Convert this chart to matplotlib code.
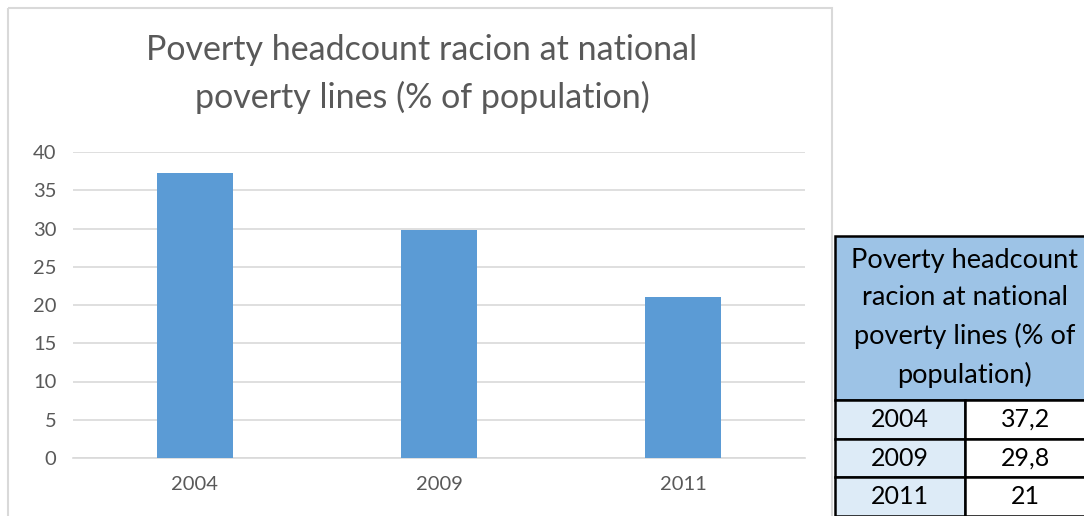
import matplotlib.pyplot as plt
from matplotlib.patches import Rectangle

years = ["2004", "2009", "2011"]
values = [37.2, 29.8, 21]
value_labels = ["37,2", "29,8", "21"]
title = "Poverty headcount racion at national\npoverty lines (% of population)"
table_header = "Poverty headcount\nracion at national\npoverty lines (% of\npopulation)"

plt.rcParams["font.family"] = ["Lato", "DejaVu Sans"]

W, H = 1084, 516
fig = plt.figure(figsize=(W / 100, H / 100), dpi=100)

# pixel overlay for chart border and table
bg = fig.add_axes([0, 0, 1, 1])
bg.set_xlim(0, W)
bg.set_ylim(H, 0)
bg.axis("off")
bg.add_patch(Rectangle((8, 8), 824, 520, fill=False, ec="#D9D9D9", lw=1.5))

# bar chart
left, right, top, bottom = 73, 805, 152, 458
ax = fig.add_axes([left / W, 1 - bottom / H, (right - left) / W, (bottom - top) / H])
ax.bar(years, values, width=0.31, color="#5B9BD5", zorder=3)
ax.set_ylim(0, 40)
ax.set_xlim(-0.5, 2.5)
ax.set_yticks(range(0, 41, 5))
ax.grid(axis="y", color="#D9D9D9", lw=1.2, zorder=0)
for s in ["top", "right", "left"]:
    ax.spines[s].set_visible(False)
ax.spines["bottom"].set_color("#D9D9D9")
ax.spines["bottom"].set_linewidth(1.2)
ax.tick_params(length=0, colors="#595959", labelsize=14.5)
ax.tick_params(axis="x", pad=13)
ax.tick_params(axis="y", pad=12)
fig.text(422 / W, 1 - 74 / H, title, ha="center", va="center",
         fontsize=24.5, color="#595959", linespacing=1.55)

# table
tx0, tx1, tx2 = 835, 965, 1090
hy0, hy1 = 236, 400
row_h = 38.7
bg.add_patch(Rectangle((tx0, hy0), tx2 - tx0, hy1 - hy0, fc="#9DC3E6", ec="black", lw=1.8))
bg.text((tx0 + 1084) / 2 + 5, (hy0 + hy1) / 2, table_header, ha="center", va="center",
        fontsize=19.5, linespacing=1.6, color="black")
for i, (yr, lab) in enumerate(zip(years, value_labels)):
    y = hy1 + i * row_h
    bg.add_patch(Rectangle((tx0, y), tx1 - tx0, row_h, fc="#DDEBF7", ec="black", lw=1.8))
    bg.add_patch(Rectangle((tx1, y), tx2 - tx1, row_h, fc="white", ec="black", lw=1.8))
    bg.text((tx0 + tx1) / 2, y + row_h / 2, yr, ha="center", va="center", fontsize=18)
    bg.text((tx1 + 1086) / 2, y + row_h / 2, lab, ha="center", va="center", fontsize=18)

fig.savefig("out.png", dpi=100)
